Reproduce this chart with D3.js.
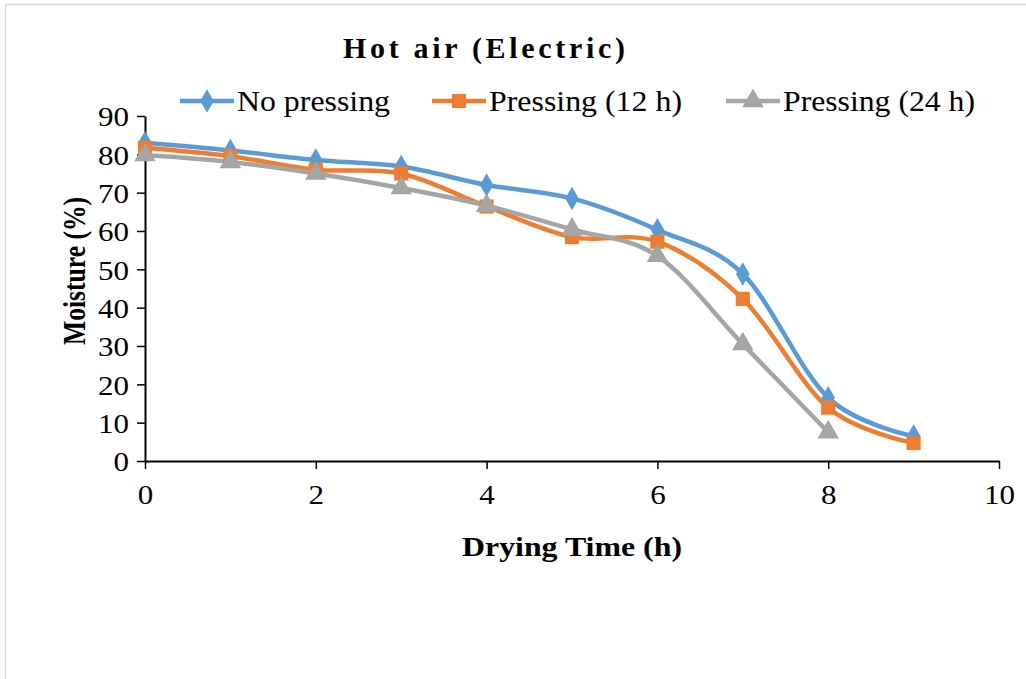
<!DOCTYPE html>
<html><head><meta charset="utf-8">
<script src="https://cdn.jsdelivr.net/npm/d3@7"></script>
<style>body{margin:0;background:#fff}svg{display:block}text{font-family:"Liberation Serif","Times New Roman",serif;fill:#000}</style>
</head><body>
<svg id="c" width="1026" height="679"></svg>
<script>
const hours = [0,1,2,3,4,5,6,7,8,9];
const noPressing = [83, 81, 78.5, 76.8, 72, 68.5, 60.3, 48.8, 16.5, 6.5];
const pressing12 = [81.7, 79.5, 76, 75, 66.4, 58.4, 57.2, 42.3, 13.9, 4.7];
const pressing24 = [79.8, 78, 75, 71.2, 66.6, 60.4, 53.5, 30.5, 7.5];
const seriesNames = ["No pressing", "Pressing (12 h)", "Pressing (24 h)"];
const xTicks = [0,2,4,6,8,10];
const yTicks = [0,10,20,30,40,50,60,70,80,90];
const colors = ["#5B9BD5", "#ED7D31", "#A5A5A5"];

const svg = d3.select("#c");
// outer border
svg.append("path").attr("d","M5.5,679 V4.5 H1026").attr("fill","none").attr("stroke","#d9d9d9").attr("stroke-width",1.5);

const x = d3.scaleLinear().domain([0,10]).range([145,999]);
const y = d3.scaleLinear().domain([0,90]).range([461,116]);

// axes
const xa = svg.append("g").attr("transform","translate(0,461)")
  .call(d3.axisBottom(x).tickValues(xTicks).tickSize(8).tickSizeOuter(0).tickPadding(10));
const ya = svg.append("g").attr("transform","translate(145,0)")
  .call(d3.axisLeft(y).tickValues(yTicks).tickSize(8).tickSizeOuter(0).tickPadding(8));
[xa,ya].forEach(g=>{
  g.select(".domain").attr("stroke","#000").attr("stroke-width",2);
  g.selectAll(".tick line").attr("stroke","#000").attr("stroke-width",1.5);
  g.selectAll(".tick text").style("font-family","'Liberation Serif',serif").style("font-size","28px").attr("fill","#000")
    .attr("textLength",function(){return this.textContent.length*15.5;}).attr("lengthAdjust","spacingAndGlyphs");
});
xa.selectAll(".tick text").attr("dy","0.9em");
ya.selectAll(".tick text").attr("dy","0.35em");

const data = [noPressing, pressing12, pressing24];
const line = d3.line().x((d,i)=>x(hours[i])).y(d=>y(d)).curve(d3.curveCatmullRom.alpha(0));
const symbols = [d3.symbolDiamond, d3.symbolSquare, d3.symbolTriangle];
const sizes = [160, 200, 200];

data.forEach((s,k)=>{
  svg.append("path").datum(s).attr("d",line).attr("fill","none").attr("stroke",colors[k]).attr("stroke-width",4.5).attr("stroke-linejoin","round");
});
data.forEach((s,k)=>{
  svg.append("g").selectAll("path").data(s).join("path")
    .attr("transform",(d,i)=>`translate(${x(hours[i])},${y(d)})`)
    .attr("d",d3.symbol().type(symbols[k]).size(sizes[k]))
    .attr("fill",colors[k]);
});

// title
svg.append("text").attr("x",343).attr("y",58)
  .style("font-size","30px").style("font-weight","bold")
  .attr("textLength",282).attr("lengthAdjust","spacing").text("Hot air (Electric)");

// legend
const legX = [180, 432, 726];
const legW = [153, 193, 192];
seriesNames.forEach((n,k)=>{
  const g = svg.append("g").attr("transform",`translate(${legX[k]},101)`);
  g.append("line").attr("x1",0).attr("x2",54).attr("stroke",colors[k]).attr("stroke-width",4.5);
  g.append("path").attr("transform","translate(27,0)").attr("d",d3.symbol().type(symbols[k]).size(sizes[k])).attr("fill",colors[k]);
  g.append("text").attr("x",57).attr("y",10).style("font-size","29px")
    .attr("textLength",legW[k]).attr("lengthAdjust","spacingAndGlyphs").text(n);
});

// axis titles
svg.append("text").attr("x",462).attr("y",556)
  .style("font-size","28px").style("font-weight","bold")
  .attr("textLength",220).attr("lengthAdjust","spacingAndGlyphs").text("Drying Time (h)");
svg.append("text").attr("transform","translate(85,345) rotate(-90)")
  .style("font-size","32px").style("font-weight","bold")
  .attr("textLength",148).attr("lengthAdjust","spacingAndGlyphs").text("Moisture (%)");
</script>
</body></html>
